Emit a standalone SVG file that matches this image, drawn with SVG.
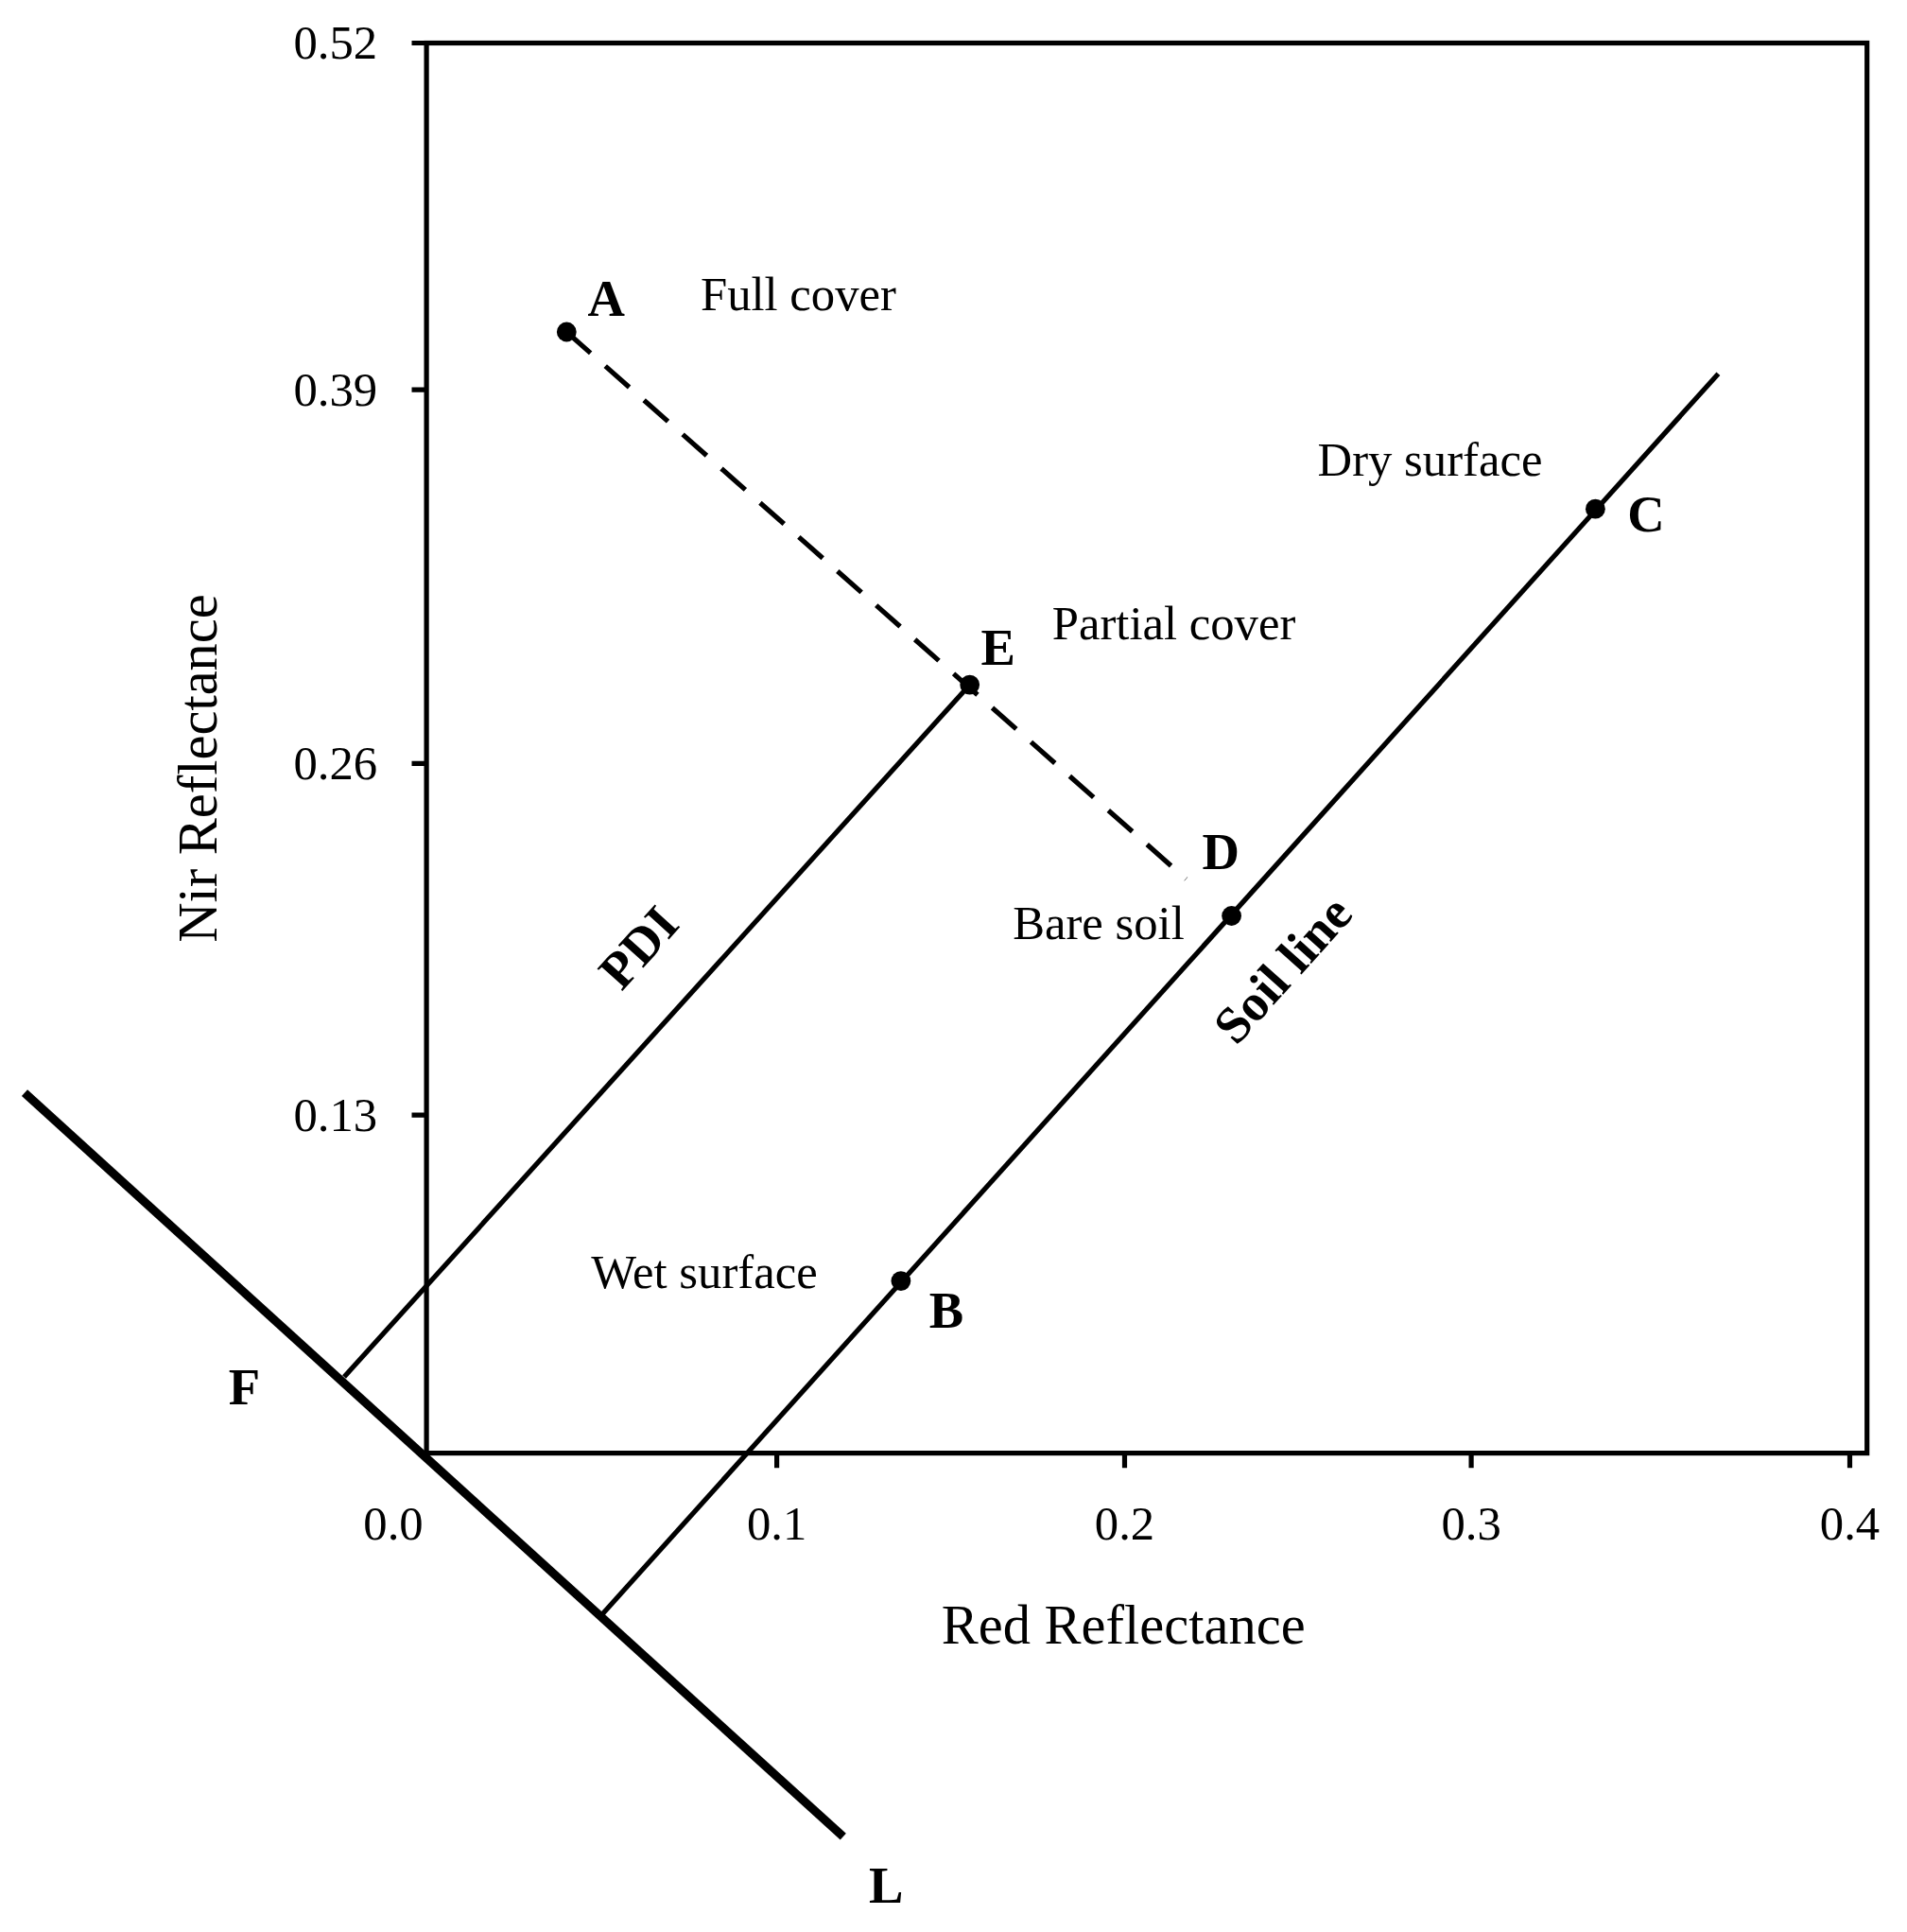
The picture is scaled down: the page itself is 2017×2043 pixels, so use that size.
<svg xmlns="http://www.w3.org/2000/svg" width="2017" height="2043" viewBox="0 0 2017 2043">
<style>
.t{font-family:"Liberation Serif",serif;font-size:39px;fill:#000}
.b{font-family:"Liberation Serif",serif;font-size:42px;font-weight:bold;fill:#000}
.ax{font-family:"Liberation Serif",serif;font-size:45px;fill:#000}
.l{stroke:#000;stroke-width:4;fill:none}
</style>
<rect width="2017" height="2043" fill="#fff"/>
<g transform="scale(1.3)">
<g id="axes">
<rect x="347" y="35" width="1172" height="1147" class="l" stroke-width="4.5"/>
<path class="l" d="M335 35H347M335 317H347M335 621H347M335 907H347M632 1182V1194M915 1182V1194M1197 1182V1194M1505 1182V1194"/>
<text class="t" x="307" y="48" text-anchor="end">0.52</text>
<text class="t" x="307" y="330" text-anchor="end">0.39</text>
<text class="t" x="307" y="634" text-anchor="end">0.26</text>
<text class="t" x="307" y="920" text-anchor="end">0.13</text>
<text class="t" x="320" y="1252" text-anchor="middle">0.0</text>
<text class="t" x="632" y="1252" text-anchor="middle">0.1</text>
<text class="t" x="915" y="1252" text-anchor="middle">0.2</text>
<text class="t" x="1197" y="1252" text-anchor="middle">0.3</text>
<text class="t" x="1505" y="1252" text-anchor="middle">0.4</text>
<text class="ax" x="914" y="1337" text-anchor="middle">Red Reflectance</text>
<text class="ax" transform="translate(176,625) rotate(-90)" text-anchor="middle">Nir Reflectance</text>
</g>
<g id="connectors">
<line x1="20" y1="889" x2="686" y2="1494" stroke="#000" stroke-width="7"/>
<line x1="490" y1="1313" x2="1398" y2="304" class="l"/>
<line x1="280" y1="1120" x2="789" y2="557" class="l"/>
<line x1="461" y1="270" x2="965" y2="715" class="l" stroke-dasharray="26,16"/>
</g>
<g id="A"><circle cx="461" cy="270" r="8"/><text class="b" x="478" y="257">A</text><text class="t" x="570" y="252">Full cover</text></g>
<g id="E"><circle cx="789" cy="557" r="8"/><text class="b" x="798" y="541">E</text><text class="t" x="856" y="520">Partial cover</text></g>
<g id="D"><text class="b" x="978" y="707">D</text><circle cx="1002" cy="745" r="8"/><text class="t" x="824" y="764">Bare soil</text></g>
<g id="C"><circle cx="1298" cy="414" r="8"/><text class="b" x="1324" y="432">C</text><text class="t" x="1072" y="387">Dry surface</text></g>
<g id="B"><circle cx="733" cy="1042" r="8"/><text class="b" x="756" y="1080">B</text><text class="t" x="481" y="1048">Wet surface</text></g>
<g id="labels">
<text class="b" transform="translate(530,780) rotate(-48)" text-anchor="middle">PDI</text>
<text class="b" transform="translate(1054,798) rotate(-48)" text-anchor="middle">Soil line</text>
<text class="b" x="186" y="1142">F</text>
<text class="b" x="707" y="1548">L</text>
</g>
</g>
</svg>
